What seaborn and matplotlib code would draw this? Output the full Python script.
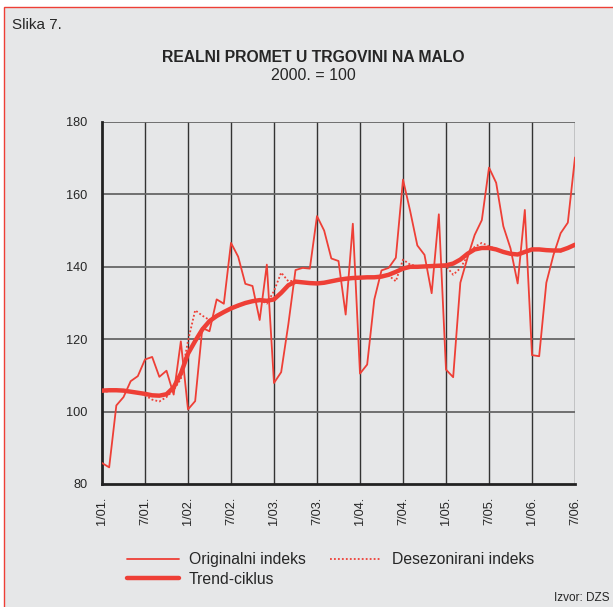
import seaborn as sns
import matplotlib.pyplot as plt
import matplotlib.patches as patches
import pandas as pd
import numpy as np

# Monthly data, Jan 2001 - Jul 2006 (2000. = 100)
tick_labels = ["1/01.", "7/01.", "1/02.", "7/02.", "1/03.", "7/03.",
               "1/04.", "7/04.", "1/05.", "7/05.", "1/06.", "7/06."]

originalni = [85.8, 84.6, 101.7, 104.0, 108.4, 109.8, 114.4, 115.1, 109.6, 111.3, 104.7, 119.4,
              100.6, 102.9, 123.1, 122.2, 131.0, 129.8, 146.6, 142.8, 135.3, 134.7, 125.3, 140.6,
              107.9, 110.9, 124.1, 139.1, 139.7, 139.5, 154.0, 150.0, 142.3, 141.6, 126.8, 151.9,
              110.5, 113.0, 131.0, 139.0, 139.7, 142.5, 164.1, 155.4, 145.9, 143.3, 132.7, 154.5,
              111.6, 109.5, 135.6, 142.5, 148.8, 152.9, 167.4, 163.2, 151.2, 145.1, 135.4, 155.7,
              115.6, 115.3, 135.6, 143.3, 149.3, 152.2, 170.2]

desezonirani = [105.5, 105.6, 105.9, 106.0, 105.6, 105.3, 104.5, 103.3, 102.8, 104.0, 106.0, 109.0,
                119.5, 128.0, 126.5, 125.3, 126.5, 127.3, 128.8, 129.0, 130.2, 130.4, 130.9, 129.8,
                133.3, 138.4, 136.0, 136.2, 135.5, 135.6, 135.2, 135.7, 135.9, 136.6, 136.5, 137.0,
                136.9, 137.2, 137.0, 137.4, 137.6, 136.0, 142.0, 140.6, 140.2, 140.0, 140.3, 140.2,
                140.2, 137.8, 139.6, 143.0, 145.5, 146.6, 145.7, 144.9, 144.0, 143.4, 143.2, 144.3,
                144.9, 144.7, 144.4, 144.6, 144.2, 145.0, 146.4]

trend = [105.8, 105.9, 105.9, 105.8, 105.5, 105.2, 104.9, 104.5, 104.4, 104.8, 106.7, 110.5,
         116.0, 119.5, 122.7, 125.0, 126.4, 127.5, 128.5, 129.3, 130.0, 130.5, 130.8, 130.6,
         131.0, 132.8, 134.9, 135.9, 135.7, 135.5, 135.4, 135.6, 136.0, 136.4, 136.7, 136.9,
         137.0, 137.1, 137.1, 137.3, 137.8, 138.6, 139.5, 140.0, 140.0, 140.1, 140.2, 140.3,
         140.4, 140.9, 142.0, 143.6, 144.8, 145.2, 145.2, 144.8, 144.1, 143.6, 143.4, 144.1,
         144.8, 144.8, 144.6, 144.5, 144.5, 145.2, 146.1]

months = np.arange(len(originalni))
df = pd.DataFrame({"mjesec": months, "Originalni indeks": originalni,
                   "Desezonirani indeks": desezonirani, "Trend-ciklus": trend})

sns.set_style("white")
plt.rcParams["font.family"] = ["Liberation Sans", "DejaVu Sans"]

bg = "#e6e7e8"
red = "#ee3f36"

fig = plt.figure(figsize=(6.13, 6.07), dpi=100, facecolor="white")
# grey panel with thin red frame (left and top edges visible)
fig.patches.append(patches.Rectangle((4 / 613, -0.05), 1.1, 1.05 - 7 / 607,
                                     transform=fig.transFigure, facecolor=bg,
                                     edgecolor=red, linewidth=1.0, zorder=-10))

ax = fig.add_axes([102 / 613, 1 - 484 / 607, 473 / 613, 362 / 607])
ax.set_facecolor("none")

sns.lineplot(data=df, x="mjesec", y="Originalni indeks", ax=ax, color=red,
             linewidth=1.3, label="Originalni indeks", zorder=3)
sns.lineplot(data=df, x="mjesec", y="Trend-ciklus", ax=ax, color=red,
             linewidth=3.2, label="Trend-ciklus", zorder=4)
sns.lineplot(data=df, x="mjesec", y="Desezonirani indeks", ax=ax, color=red,
             linewidth=1.3, linestyle=(0, (1, 1.2)), label="Desezonirani indeks", zorder=3)

ax.set_xlim(0, 66)
ax.set_ylim(80, 180)
ax.set_xticks(np.arange(0, 67, 6))
ax.set_xticklabels(tick_labels, rotation=90, fontsize=9.2)
ax.set_yticks(np.arange(80, 181, 20))
ax.set_yticklabels([str(v) for v in range(80, 181, 20)], fontsize=9.2)
ax.tick_params(axis="both", direction="out", length=4.3, width=1, color="#222222")
ax.tick_params(axis="y", pad=6)
ax.tick_params(axis="x", pad=5)
ax.set_xlabel("")
ax.set_ylabel("")

for x in np.arange(6, 67, 6):
    ax.axvline(x, color="#333333", linewidth=1.0, zorder=1)
for y in np.arange(100, 181, 20):
    ax.axhline(y, color="#666666", linewidth=1.3, zorder=1)

for side in ["top", "right"]:
    ax.spines[side].set_visible(False)
ax.spines["left"].set_linewidth(2)
ax.spines["bottom"].set_linewidth(2)
ax.spines["left"].set_color("#222222")
ax.spines["bottom"].set_color("#222222")

handles, labels = ax.get_legend_handles_labels()
ax.get_legend().remove()
fig.legend(handles, labels, ncol=2, loc="upper left", bbox_to_anchor=(113 / 613, 1 - 538 / 607),
           frameon=False, fontsize=11.3, handlelength=3.3, handletextpad=0.65,
           columnspacing=1.5, labelspacing=0.3)

fig.text(12 / 613, 1 - 25 / 607, "Slika 7.", fontsize=11, va="center", ha="left")
fig.text(313 / 613, 1 - 57 / 607, "REALNI PROMET U TRGOVINI NA MALO", fontsize=11.3,
         fontweight="bold", va="center", ha="center")
fig.text(313 / 613, 1 - 75 / 607, "2000. = 100", fontsize=11.5, va="center", ha="center")
fig.text(609 / 613, 1 - 598 / 607, "Izvor: DZS", fontsize=8.5, va="center", ha="right")

fig.savefig("out.png", dpi=100, facecolor=fig.get_facecolor())
